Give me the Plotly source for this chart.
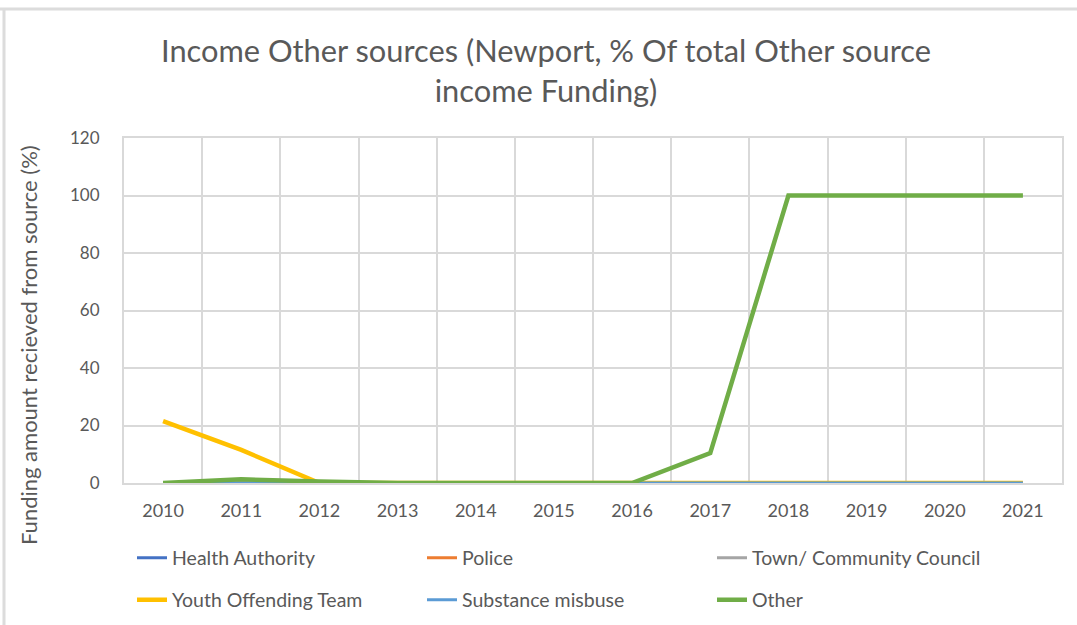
import plotly.graph_objects as go

years = [str(y) for y in range(2010, 2022)]
health_authority = [0] * 12
police = [0] * 12
town_council = [0] * 12
youth_offending = [21.5, 11.5, 0, 0, 0, 0, 0, 0, 0, 0, 0, 0]
substance_misuse = [0] * 12
other = [0, 1.3, 0.5, 0, 0, 0, 0, 10.4, 100, 100, 100, 100]

series = [
    ("Health Authority", health_authority, "#4472C4", 3, "legend"),
    ("Police", police, "#ED7D31", 3, "legend"),
    ("Town/ Community Council", town_council, "#A5A5A5", 3, "legend"),
    ("Youth Offending Team", youth_offending, "#FFC000", 4.5, "legend2"),
    ("Substance misbuse", substance_misuse, "#5B9BD5", 3, "legend2"),
    ("Other", other, "#70AD47", 4.5, "legend2"),
]

fig = go.Figure()
for name, vals, color, w, leg in series:
    fig.add_trace(go.Scatter(x=years, y=vals, name=name, mode="lines", legend=leg,
                             line=dict(color=color, width=w), cliponaxis=False))

W, H = 1077, 625
L, R, T, B = 124, 15, 138, 142
pw, ph = W - L - R, H - T - B


def px(x):
    return (x - L) / pw


def py(y):
    return (H - B - y) / ph


grid = "#d9d9d9"
txt = "#595959"
font = "Lato"

legend_style = dict(orientation="h", xanchor="left", yanchor="middle",
                    entrywidth=245, entrywidthmode="pixels", traceorder="normal",
                    font=dict(size=19.5, color=txt, family=font),
                    bgcolor="rgba(0,0,0,0)")

fig.update_layout(
    width=W, height=H,
    margin=dict(l=L, r=R, t=T, b=B, autoexpand=False),
    paper_bgcolor="white", plot_bgcolor="white",
    font=dict(family=font, color=txt, size=18),
    title=dict(text="Income Other sources (Newport, % Of total Other source<br>income Funding)",
               x=546 / W, xanchor="center", y=1 - 62 / H, yanchor="middle",
               font=dict(size=30.8, color=txt, family=font)),
    showlegend=True,
    legend=dict(x=px(132), y=py(558), **legend_style),
    legend2=dict(x=px(132), y=py(600), **legend_style),
    annotations=[
        dict(text="Funding amount recieved from source (%)", textangle=-90,
             xref="paper", yref="paper", x=px(28), y=py(345),
             xanchor="center", yanchor="middle", showarrow=False,
             font=dict(size=22, color=txt, family=font)),
    ],
    shapes=[
        dict(type="line", xref="paper", yref="paper", x0=px(0), x1=px(W), y0=py(9), y1=py(9),
             line=dict(color="#dcdcdc", width=3)),
        dict(type="line", xref="paper", yref="paper", x0=px(4), x1=px(4), y0=py(9), y1=py(H),
             line=dict(color="#dcdcdc", width=3)),
    ],
)
fig.update_xaxes(type="category", range=[-0.5, 11.5], tickson="boundaries",
                 showgrid=True, gridcolor=grid, gridwidth=2, automargin=False,
                 showline=True, linecolor=grid, linewidth=2, mirror=True,
                 ticks="", tickfont=dict(size=18, color=txt), ticklabelstandoff=10)
fig.update_yaxes(range=[0, 120], dtick=20, showgrid=True, gridcolor=grid, gridwidth=2,
                 showline=True, linecolor=grid, linewidth=2, mirror=True, automargin=False,
                 zeroline=False, ticks="", tickfont=dict(size=17, color=txt),
                 ticklabelstandoff=19)

fig.write_html("out.html", config={"displayModeBar": False},
               post_script="document.body.style.margin='0px';")
